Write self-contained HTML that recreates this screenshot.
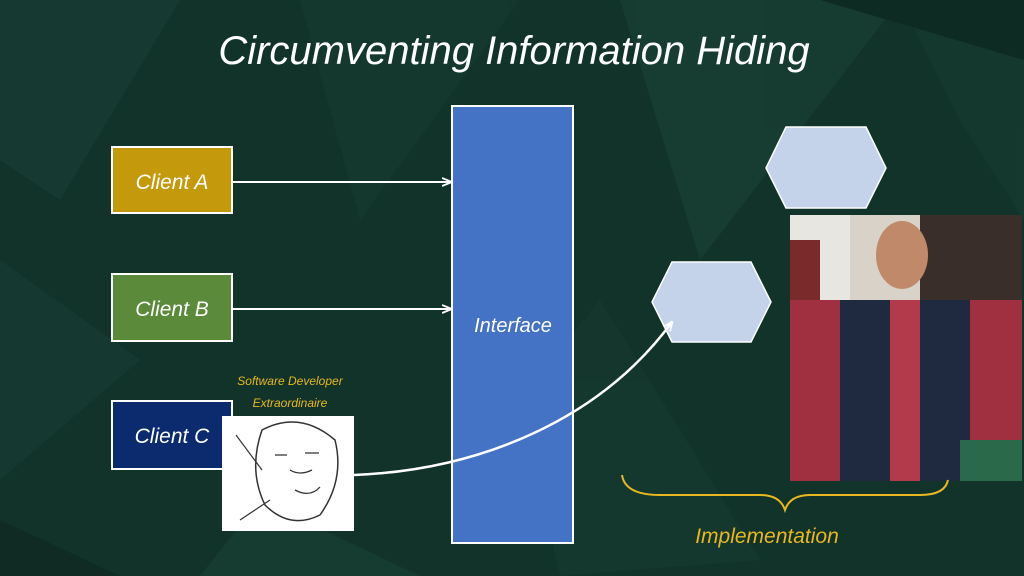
<!DOCTYPE html>
<html><head><meta charset="utf-8"><style>
html,body{margin:0;padding:0;width:1024px;height:576px;overflow:hidden;background:#0f2c24;}
svg text{font-family:"Liberation Sans",sans-serif;font-style:italic;}
</style></head><body>
<svg width="1024" height="576" viewBox="0 0 1024 576" xmlns="http://www.w3.org/2000/svg">
<defs>
<marker id="ah" markerWidth="10" markerHeight="10" refX="9" refY="5" orient="auto" markerUnits="userSpaceOnUse"><path d="M0,1 L10,5 L0,9" fill="none" stroke="#fff" stroke-width="1.8"/></marker>
</defs>
<rect width="1024" height="576" fill="#12332a"/>
<g opacity="0.55">
<polygon points="0,0 180,0 60,200 0,160" fill="#1a4036"/>
<polygon points="300,0 520,0 360,220" fill="#163a31"/>
<polygon points="620,0 900,0 700,260" fill="#1b4338"/>
<polygon points="900,0 1024,0 1024,220 960,120" fill="#173d33"/>
<polygon points="0,260 140,360 0,480" fill="#183e34"/>
<polygon points="600,300 760,560 560,576 520,400" fill="#163a31"/>
<polygon points="260,500 420,576 200,576" fill="#1a4137"/>
<polygon points="820,0 1024,60 1024,0" fill="#0c251f"/>
<polygon points="0,520 120,576 0,576" fill="#0c251f"/>
</g>
<text x="514" y="64" font-size="40" fill="#fff" text-anchor="middle">Circumventing Information Hiding</text>

<rect x="112" y="147" width="120" height="66" fill="#c49a0c" stroke="#fff" stroke-width="2"/>
<text x="172" y="189" font-size="21" fill="#fff" text-anchor="middle">Client A</text>
<rect x="112" y="274" width="120" height="67" fill="#5b8a3a" stroke="#fff" stroke-width="2"/>
<text x="172" y="316" font-size="21" fill="#fff" text-anchor="middle">Client B</text>
<rect x="112" y="401" width="120" height="68" fill="#0c2a6e" stroke="#fff" stroke-width="2"/>
<text x="172" y="443" font-size="21" fill="#fff" text-anchor="middle">Client C</text>

<line x1="232" y1="182" x2="451" y2="182" stroke="#fff" stroke-width="2" marker-end="url(#ah)"/>
<line x1="232" y1="309" x2="451" y2="309" stroke="#fff" stroke-width="2" marker-end="url(#ah)"/>

<rect x="452" y="106" width="121" height="437" fill="#4472c4" stroke="#fff" stroke-width="2"/>
<text x="513" y="332" font-size="20" fill="#fff" text-anchor="middle">Interface</text>

<polygon points="786,127 866,127 886,168 866,208 786,208 766,168" fill="#c5d3ea" stroke="#fff" stroke-width="1.5"/>
<polygon points="672,262 751,262 771,302 751,342 672,342 652,302" fill="#c5d3ea" stroke="#fff" stroke-width="1.5"/>

<!-- photo -->
<rect x="790" y="215" width="232" height="266" fill="#d8d2c8"/>
<rect x="790" y="215" width="60" height="120" fill="#e8e6e0"/>
<rect x="920" y="215" width="102" height="110" fill="#3a2e2a"/>
<rect x="790" y="240" width="30" height="100" fill="#7a2a2a"/>
<rect x="790" y="300" width="232" height="181" fill="#a03040"/>
<rect x="840" y="300" width="130" height="181" fill="#1f2a40"/>
<rect x="890" y="300" width="30" height="181" fill="#b23a4a"/>
<ellipse cx="902" cy="255" rx="26" ry="34" fill="#c08a6a"/>
<rect x="960" y="440" width="62" height="41" fill="#2a6a4a"/>

<!-- wojak -->
<rect x="222" y="416" width="132" height="115" fill="#fff"/>
<path d="M262,430 Q300,410 335,440 Q345,480 320,515 Q290,530 265,505 Q248,470 262,430Z" fill="none" stroke="#333" stroke-width="1.5"/>
<path d="M290,470 Q300,476 312,470 M275,455 l12,0 M305,453 l14,0 M295,490 q15,8 25,-3" fill="none" stroke="#333" stroke-width="1.3"/>
<path d="M236,435 L262,470 M240,520 L270,500" stroke="#333" stroke-width="1.2"/>

<text x="290" y="385" font-size="12" fill="#e8b820" text-anchor="middle">Software Developer</text>
<text x="290" y="407" font-size="12" fill="#e8b820" text-anchor="middle">Extraordinaire</text>

<path d="M354,475 C480,470 600,420 672,322" fill="none" stroke="#fff" stroke-width="2.5" marker-end="url(#ah)"/>

<path d="M622,475 Q625,495 660,495 L760,495 Q780,495 785,510 Q790,495 810,495 L920,495 Q945,495 948,480" fill="none" stroke="#e8b820" stroke-width="2"/>
<text x="767" y="543" font-size="21" fill="#e8b820" text-anchor="middle">Implementation</text>
</svg>
</body></html>
